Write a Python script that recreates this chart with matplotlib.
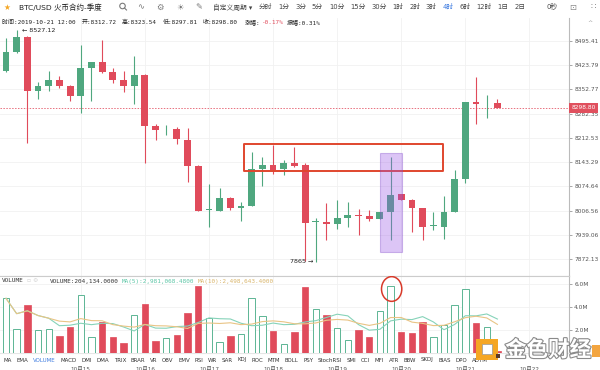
import numpy as np
import pandas as pd
import matplotlib
matplotlib.use("Agg")
import matplotlib.pyplot as plt
import matplotlib.transforms as mtrans
import matplotlib.patheffects as pe
from matplotlib.patches import Rectangle, Ellipse
from matplotlib.lines import Line2D
from matplotlib.ticker import FixedLocator, NullLocator, FuncFormatter

plt.rcParams['font.family'] = ['DejaVu Sans', 'Noto Sans CJK SC']

# 4h candles, BTC/USD quarterly, 2019-10-14 20:00 .. 2019-10-21 12:00
opens = [8406.3, 8461.2, 8507.2, 8346.9, 8362.4, 8379.0, 8361.6, 8333.3, 8415.9, 8431.7,
         8402.5, 8379.0, 8363.2, 8394.6, 8246.4, 8236.9, 8236.9, 8206.5, 8133.4, 8008.0,
         8006.8, 8041.6, 8015.3, 8020.9, 8124.0, 8134.5, 8124.0, 8141.0, 8135.4, 7974.6,
         7976.3, 7970.7, 7986.6, 7993.0, 7993.0, 7984.6, 8003.2, 8052.5, 8036.5, 8013.6,
         7964.4, 7962.4, 8004.0, 8095.8, 8316.0, 8312.2, 8312.72]
highs = [8502.5, 8527.12, 8509.0, 8375.0, 8407.1, 8392.5, 8365.3, 8482.7, 8434.0, 8497.5,
         8415.9, 8406.2, 8450.3, 8396.0, 8251.3, 8248.4, 8244.4, 8241.5, 8134.5, 8081.7,
         8071.5, 8046.1, 8032.1, 8173.2, 8157.2, 8192.3, 8148.7, 8186.6, 8141.0, 7985.7,
         8029.2, 8036.1, 8031.2, 8012.4, 8008.8, 8004.0, 8159.2, 8053.5, 8039.0, 8013.6,
         8004.0, 8048.0, 8121.2, 8316.0, 8387.9, 8336.3, 8323.54]
lows = [8404.0, 8458.0, 8197.1, 8323.8, 8348.7, 8357.4, 8318.8, 8283.2, 8319.7, 8401.0,
        8372.0, 8344.9, 8310.1, 8140.2, 8206.5, 8220.0, 8194.3, 8088.2, 8004.6, 7960.7,
        8006.0, 8008.8, 7978.2, 8020.0, 8076.9, 8109.0, 8107.0, 8130.6, 7868.0, 7865.0,
        7925.6, 7955.2, 7962.4, 7939.3, 7978.2, 7984.0, 7925.6, 8036.0, 7948.5, 7924.8,
        7953.5, 7927.5, 8003.0, 8083.6, 8251.3, 8268.6, 8297.81]
closes = [8461.2, 8505.4, 8347.8, 8361.6, 8379.0, 8363.2, 8333.3, 8415.9, 8431.7, 8402.5,
          8379.9, 8363.2, 8394.6, 8247.2, 8235.7, 8237.3, 8208.5, 8133.4, 8006.0, 8008.5,
          8041.6, 8015.3, 8020.9, 8123.2, 8134.5, 8121.2, 8141.0, 8133.4, 7973.5, 7975.2,
          7970.7, 7986.6, 7995.7, 7992.0, 7984.6, 8002.4, 8050.5, 8036.5, 8015.3, 7962.4,
          7964.9, 8003.2, 8094.9, 8315.1, 8310.1, 8312.6, 8298.80]
# volume in millions
volumes = [4.76, 2.08, 4.18, 2.02, 2.10, 1.50, 2.30, 5.02, 1.41, 2.68,
           1.39, 0.83, 3.29, 4.27, 1.06, 1.32, 1.56, 3.52, 5.83, 3.03,
           0.98, 1.44, 1.67, 4.76, 3.23, 1.93, 0.74, 1.82, 5.77, 3.81,
           3.32, 2.16, 1.09, 1.96, 1.41, 3.69, 5.83, 1.84, 1.76, 2.71,
           1.39, 2.42, 4.16, 5.54, 2.65, 2.22, 0.204134]

price_ticks = [7872.13, 7939.06, 8006.56, 8074.64, 8143.29, 8212.53, 8282.35, 8352.77, 8423.79, 8495.41]
vol_ticks = [2, 4, 6]
day_labels = ["10月15", "10月16", "10月17", "10月18", "10月19", "10月20", "10月21", "10月22"]
first_day_index = 7

periods = ["分时", "1分", "3分", "5分", "10分", "15分", "30分", "1时", "2时", "3时", "4时", "6时", "12时", "1日", "2日"]
indicators = ["MA", "EMA", "VOLUME", "MACD", "DMI", "DMA", "TRIX", "BRAR", "VR", "OBV", "EMV", "RSI",
              "WR", "SAR", "KDJ", "ROC", "MTM", "BOLL", "PSY", "StochRSI", "SMI", "CCI", "MFI", "ATR",
              "BBW", "SKDJ", "BIAS", "DPO", "ADTM"]

o = np.array(opens); h = np.array(highs); l = np.array(lows); c = np.array(closes)
v = np.array(volumes)
idx = np.arange(len(o))
up = c >= o
GREEN = "#4fa77f"
RED = "#e04b5b"

W, H = 600, 370
fig = plt.figure(figsize=(6, 3.7), dpi=100)
fig.patch.set_facecolor("white")

def px(x, y):
    return x / W, 1 - y / H

def T(x, y, s, **kw):
    kw.setdefault("va", "center")
    kw.setdefault("fontsize", 4.6)
    kw.setdefault("color", "#333333")
    return fig.text(*px(x, y), s, **kw)

ax = fig.add_axes([0, 1 - 276 / H, 569 / W, (276 - 18) / H])
axv = fig.add_axes([0, 1 - 353 / H, 569 / W, (353 - 276) / H])
day_pos = first_day_index + 6 * np.arange(len(day_labels))

for a in (ax, axv):
    a.set_xlim(-0.56, 52.7)
    a.set_xticks(day_pos)
    a.tick_params(axis="x", length=0, labelbottom=False)
    a.spines["left"].set_visible(False)
    a.spines["right"].set_color("#bbbbbb")
    a.spines["right"].set_linewidth(0.8)
    a.yaxis.tick_right()
    a.tick_params(axis="y", labelsize=4.2, labelcolor="#555555", color="#999999",
                  length=2.5, width=0.6, pad=1.2)
    a.grid(color="#f1f1f1", lw=0.6)
    a.set_axisbelow(True)

# price panel
ax.set_yscale("log")
ax.set_ylim(7826.7, 8562.9)
ax.yaxis.set_major_locator(FixedLocator(price_ticks))
ax.yaxis.set_minor_locator(NullLocator())
ax.yaxis.set_major_formatter(FuncFormatter(lambda val, pos: "%.2f" % val))
ax.spines["top"].set_visible(False)
ax.spines["bottom"].set_color("#cccccc")
ax.spines["bottom"].set_linewidth(0.8)

cols = np.where(up, GREEN, RED)
ax.vlines(idx, l, h, colors=cols, lw=0.8, zorder=2)
body_bottom = np.minimum(o, c)
body_h = np.maximum(np.abs(c - o), 2.2)
ax.bar(idx, body_h, bottom=body_bottom, width=0.64, color=cols, lw=0, zorder=3)

# last price line + tag
last = c[-1]
ax.axhline(last, color="#e8707e", lw=0.7, ls=(0, (1.5, 1.5)), zorder=1)
tr = mtrans.blended_transform_factory(ax.transAxes, ax.transData)
ax.text(1.004, last, "%.2f" % last, transform=tr, ha="left", va="center", fontsize=4.2,
        color="white", clip_on=False, zorder=10,
        bbox=dict(boxstyle="square,pad=0.45", fc="#e0505e", ec="none"))

# high / low marks
ih = int(np.argmax(h))
ax.annotate("← %.2f" % h[ih], xy=(ih, h[ih]), xytext=(3.5, 0), textcoords="offset points",
            ha="left", va="center", fontsize=4.6, color="#222222")
il = int(np.argmin(l))
ax.annotate("%g →" % l[il], xy=(il, l[il]), xytext=(-1.5, 0), textcoords="offset points",
            ha="right", va="center", fontsize=4.6, color="#222222")

# highlight boxes
ax.add_patch(Rectangle((22.28, 8119.3), 40.95 - 22.28, 8194.3 - 8119.3, fill=False,
                       ec="#e0462e", lw=1.4, joinstyle="round", zorder=6))
ax.add_patch(Rectangle((35.05, 7891.7), 2.0, 8170.3 - 7891.7, fc="#9b59e6", alpha=0.35,
                       ec="#7d45c8", lw=0.8, zorder=6))

# volume panel
axv.set_ylim(0, 6.7)
axv.set_yticks(vol_ticks)
axv.yaxis.set_major_formatter(FuncFormatter(lambda val, pos: "%.1fM" % val))
axv.spines["top"].set_color("#cccccc")
axv.spines["top"].set_linewidth(0.8)
axv.spines["bottom"].set_color("#e6e6e6")
axv.bar(idx[up], v[up], width=0.6, fc="white", ec="#5cb594", lw=0.7, zorder=3)
axv.bar(idx[~up], v[~up], width=0.6, fc=RED, ec=RED, lw=0.5, zorder=3)
vs = pd.Series(v)
axv.plot(idx, vs.rolling(5, min_periods=1).mean(), color="#86d3b9", lw=0.8, zorder=4)
axv.plot(idx, vs.rolling(10, min_periods=1).mean(), color="#e9c485", lw=0.8, zorder=4)
axv.add_patch(Ellipse((36.1, 5.57), 1.9, 2.15, fill=False, ec="#d83a2a", lw=1.1, zorder=6))

# header row
T(7, 7, "★", color="#f5a623", fontsize=5.5, ha="center")
T(19, 7, "BTC/USD 火币合约-季度", fontsize=5.4, color="#222222")
# magnifier icon (no installed glyph)
fig.add_artist(Ellipse(px(122.5, 6), 5.5 / W, 5.5 / H, transform=fig.transFigure,
                       fill=False, ec="#7a7a7a", lw=0.8))
fig.add_artist(Line2D([124.5 / W, 126.5 / W], [1 - 8 / H, 1 - 10 / H],
                      transform=fig.transFigure, color="#7a7a7a", lw=0.8))
for x0, s in zip([141, 160, 180, 199], ["∿", "⚙", "☀", "✎"]):
    T(x0, 7, s, fontsize=6, color="#7a7a7a", ha="center")
T(213, 7, "自定义周期 ▾", fontsize=4.9, color="#444444")
x = 259
renderer = fig.canvas.get_renderer()
for s in periods:
    t = T(x, 7, s, fontsize=4.9, color="#3d7be0" if s == "4时" else "#444444")
    x += t.get_window_extent(renderer).width + 5.8
T(552, 7, "0秒", fontsize=4.9, color="#444444", ha="center")
T(573, 7, "⊡", fontsize=6, color="#888888", ha="center")
T(593, 7, "∷", fontsize=6, color="#888888", ha="center")
T(590, 22, "^", fontsize=4.5, color="#999999", ha="center")

# info row
prev = c[-2]
mono = ["DejaVu Sans Mono", "Noto Sans CJK SC"]
info = [(2, "时间:2019-10-21 12:00", "#222222"), (82, "开:%.2f" % o[-1], "#222222"),
        (122, "高:%.2f" % h[-1], "#222222"), (163, "低:%.2f" % l[-1], "#222222"),
        (203, "收:%.2f" % c[-1], "#222222"), (245, "涨幅:", "#222222"),
        (262, "%.2f%%" % ((c[-1] - prev) / prev * 100), "#e04b5b"),
        (287, "振幅:%.2f%%" % ((h[-1] - l[-1]) / prev * 100), "#222222")]
for x0, s, col in info:
    T(x0, 22, s, fontsize=4.3, color=col, family=mono)

# volume header
T(2, 281, "VOLUME", fontsize=4.3, family=mono)
T(27, 281, "▫ ⚙", fontsize=4.3, color="#d5d5d5")
T(50, 281, "VOLUME:204,134.0000", fontsize=4.3, family=mono)
T(122, 281, "MA(5):2,981,068.4800", fontsize=4.3, color="#5cc6a6", family=mono)
T(198, 281, "MA(10):2,498,643.4000", fontsize=4.3, color="#d9b56b", family=mono)

# indicator row
x = 4
for s in indicators:
    t = T(x, 360, s, fontsize=4.0, color="#3d7be0" if s == "VOLUME" else "#333333")
    x += t.get_window_extent(renderer).width + 4.6

# day labels (cut at bottom edge)
for p, s in zip(day_pos, day_labels):
    xx = ax.transData.transform((p, 8000))[0]
    T(xx, 366.5, s, fontsize=4.1, color="#555555", ha="center", va="top")

# watermark
fig.add_artist(Rectangle(px(476, 360), 22 / W, 21 / H, transform=fig.transFigure,
                         fc="#f5a623", ec="none", zorder=20))
fig.add_artist(Rectangle(px(482, 354), 10 / W, 10 / H, transform=fig.transFigure,
                         fc="white", ec="#999999", lw=0.5, zorder=21))
fig.add_artist(Rectangle(px(496, 358), 4 / W, 4 / H, transform=fig.transFigure,
                         fc="#5a3a2a", ec="none", zorder=21))
fig.add_artist(Rectangle(px(592, 357), 8 / W, 12 / H, transform=fig.transFigure,
                         fc="#f3a540", ec="none", zorder=20))
T(548, 350, "金色财经", fontsize=15.5, color="white", ha="center", family=["Noto Sans CJK SC"],
  weight="bold", zorder=22, path_effects=[pe.withStroke(linewidth=1.6, foreground="#8a8a8a")])

fig.savefig("out.png", dpi=100)
